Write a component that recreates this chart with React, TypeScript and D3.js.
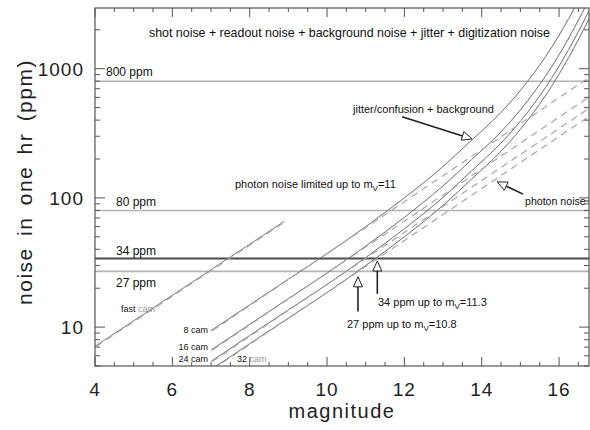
import { useEffect, useRef } from "react";
import * as d3 from "d3";

// magnitudes where the total-noise curves were read
const totalMags = [7, 9, 10, 11, 12, 13, 13.74, 14.5, 15.19, 15.8, 16.4, 16.8];
const cam8Total = [9.4, 23.5, 37, 60, 100, 175, 280, 460, 800, 1450, 2950, 5030];
const cam16Total = [6.65, 16.6, 26.2, 42.4, 70.7, 124, 198, 325, 566, 1025, 2086, 3557];
const cam24Total = [5.43, 13.6, 21.4, 34.6, 57.7, 101, 162, 266, 462, 837, 1703, 2904];
const cam32Total = [4.7, 11.75, 18.5, 30, 50, 87.5, 140, 230, 400, 725, 1475, 2515];

// photon noise (straight lines in log space)
const photonMags = [7, 16.8];
const cam8Photon = [9.4, 880];
const cam16Photon = [6.65, 622];
const cam24Photon = [5.43, 508];
const cam32Photon = [4.7, 440];

const fastMags = [4, 8.9];
const fastCam = [7.1, 66];

// requirement lines
const levels = [800, 80, 34, 27];
const levelLabels = ["800 ppm", "80 ppm", "34 ppm", "27 ppm"];

const xMajor = [4, 6, 8, 10, 12, 14, 16];
const yMajor = [10, 100, 1000];

const App = () => {
  const ref = useRef(null);

  useEffect(() => {
    const width = 590;
    const height = 430;
    const left = 95, right = 589, top = 8, bottom = 366;
    const font = "'Liberation Sans', Arial, sans-serif";

    const root = d3.select(ref.current);
    root.selectAll("*").remove();
    const svg = root
      .append("svg")
      .attr("width", width)
      .attr("height", height)
      .style("position", "absolute")
      .style("left", "0px")
      .style("top", "0px")
      .style("background", "#fff");

    const x = d3.scaleLinear().domain([4, 16.8]).range([left, right + 1]);
    const y = d3.scaleLog().domain([5, 2950]).range([bottom, top]);

    svg
      .append("clipPath")
      .attr("id", "plot")
      .append("rect")
      .attr("x", left)
      .attr("y", top)
      .attr("width", right - left)
      .attr("height", bottom - top);

    const g = svg.append("g").attr("clip-path", "url(#plot)");

    // horizontal requirement lines
    levels.forEach((v) => {
      g.append("line")
        .attr("x1", left)
        .attr("x2", right)
        .attr("y1", y(v))
        .attr("y2", y(v))
        .attr("stroke", v === 34 ? "#4a4a4a" : "#b4b4b4")
        .attr("stroke-width", v === 34 ? 2 : 1.6);
    });

    const line = d3
      .line<[number, number]>()
      .x((d) => x(d[0]))
      .y((d) => y(d[1]))
      .curve(d3.curveMonotoneX);

    const totals = [cam8Total, cam16Total, cam24Total, cam32Total];
    totals.forEach((vals) => {
      g.append("path")
        .attr("d", line(totalMags.map((m, i) => [m, vals[i]])))
        .attr("fill", "none")
        .attr("stroke", "#6e6e6e")
        .attr("stroke-width", 1);
    });

    // dashed photon lines drawn on top, a hair to the right
    const photons = [cam8Photon, cam16Photon, cam24Photon, cam32Photon];
    photons.forEach((vals) => {
      g.append("path")
        .attr("d", line(photonMags.map((m, i) => [m, vals[i]])))
        .attr("transform", "translate(1.5,0)")
        .attr("fill", "none")
        .attr("stroke", "#a8a8a8")
        .attr("stroke-width", 1.2)
        .attr("stroke-dasharray", "7,5");
    });

    // fast cameras
    g.append("path")
      .attr("d", line(fastMags.map((m, i) => [m, fastCam[i]])))
      .attr("fill", "none")
      .attr("stroke", "#777")
      .attr("stroke-width", 1);
    g.append("path")
      .attr("d", line(fastMags.map((m, i) => [m, fastCam[i]])))
      .attr("transform", "translate(1.5,0)")
      .attr("fill", "none")
      .attr("stroke", "#aaa")
      .attr("stroke-width", 1.2)
      .attr("stroke-dasharray", "7,5");

    // frame
    svg
      .append("rect")
      .attr("x", left)
      .attr("y", top)
      .attr("width", right - left)
      .attr("height", bottom - top)
      .attr("fill", "none")
      .attr("stroke", "#555")
      .attr("stroke-width", 1.2);

    // x ticks (inward, top and bottom)
    const xMinor = d3.range(4, 16.81, 0.5);
    xMinor.forEach((m) => {
      const major = xMajor.includes(m);
      const len = major ? 9 : 4;
      svg.append("line").attr("x1", x(m)).attr("x2", x(m)).attr("y1", bottom).attr("y2", bottom - len).attr("stroke", "#555");
      svg.append("line").attr("x1", x(m)).attr("x2", x(m)).attr("y1", top).attr("y2", top + len).attr("stroke", "#555");
    });
    xMajor.forEach((m) => {
      svg
        .append("text")
        .attr("x", x(m))
        .attr("y", 396)
        .attr("text-anchor", "middle")
        .attr("font-family", font)
        .attr("font-size", 19)
        .attr("letter-spacing", 1)
        .attr("fill", "#222")
        .text(m);
    });

    // y ticks (inward, left and right)
    const yTicks = y.ticks();
    yTicks.forEach((v) => {
      const major = yMajor.includes(v);
      const len = major ? 10 : 5;
      svg.append("line").attr("x1", left).attr("x2", left + len).attr("y1", y(v)).attr("y2", y(v)).attr("stroke", "#555");
      svg.append("line").attr("x1", right).attr("x2", right - len).attr("y1", y(v)).attr("y2", y(v)).attr("stroke", "#555");
    });
    yMajor.forEach((v) => {
      svg
        .append("text")
        .attr("x", 84)
        .attr("y", y(v) + 7)
        .attr("text-anchor", "end")
        .attr("font-family", font)
        .attr("font-size", 19)
        .attr("letter-spacing", 1)
        .attr("fill", "#222")
        .text(v);
    });

    // axis titles
    svg
      .append("text")
      .attr("x", (left + right) / 2)
      .attr("y", 418)
      .attr("text-anchor", "middle")
      .attr("font-family", font)
      .attr("font-size", 20)
      .attr("letter-spacing", 1.5)
      .attr("fill", "#222")
      .text("magnitude");
    svg
      .append("text")
      .attr("transform", "translate(32,182) rotate(-90)")
      .attr("text-anchor", "middle")
      .attr("font-family", font)
      .attr("font-size", 21)
      .attr("letter-spacing", 1.5)
      .attr("word-spacing", 4)
      .attr("fill", "#222")
      .text("noise in one hr (ppm)");

    // small annotation helper
    const note = (px: number, py: number, txt: string, size = 11, anchor = "start") =>
      svg
        .append("text")
        .attr("x", px)
        .attr("y", py)
        .attr("text-anchor", anchor)
        .attr("font-family", font)
        .attr("font-size", size)
        .attr("fill", "#111")
        .text(txt);

    note(149, 37, "shot noise + readout noise + background noise + jitter + digitization noise", 12.4);

    // level labels
    const labelX = [106, 116, 116, 116];
    const labelDy = [-5, -4, -3, 16];
    levels.forEach((v, i) => {
      note(labelX[i], y(v) + labelDy[i], levelLabels[i], 12);
    });

    note(353, 113, "jitter/confusion + background", 11);
    note(525, 205, "photon noise", 10.6);
    svg.append("line").attr("x1", 584).attr("x2", 589).attr("y1", 201).attr("y2", 201).attr("stroke", "#333");

    const subText = (px: number, py: number, pre: string, post: string) => {
      const t = svg
        .append("text")
        .attr("x", px)
        .attr("y", py)
        .attr("font-family", font)
        .attr("font-size", 11)
        .attr("fill", "#111");
      t.append("tspan").text(pre + "m");
      t.append("tspan").attr("dy", 3).attr("font-size", 8).text("V");
      t.append("tspan").attr("dy", -3).text(post);
    };
    subText(235, 188, "photon noise limited up to ", "=11");
    subText(378, 306, "34 ppm up to ", "=11.3");
    subText(347, 328, "27 ppm up to ", "=10.8");

    // arrows with open heads
    const arrow = (x1: number, y1: number, x2: number, y2: number) => {
      const ang = Math.atan2(y2 - y1, x2 - x1);
      const L = 10, W = 4.5;
      const bx = x2 - L * Math.cos(ang), by = y2 - L * Math.sin(ang);
      svg.append("line").attr("x1", x1).attr("y1", y1).attr("x2", bx).attr("y2", by).attr("stroke", "#222").attr("stroke-width", 1.6);
      const pts = [
        [x2, y2],
        [bx - W * Math.sin(ang), by + W * Math.cos(ang)],
        [bx + W * Math.sin(ang), by - W * Math.cos(ang)],
      ];
      svg.append("polygon").attr("points", pts.map((p) => p.join(",")).join(" ")).attr("fill", "#fff").attr("stroke", "#222").attr("stroke-width", 1);
    };
    arrow(x(11.94), y(424), x(13.75), y(286));
    arrow(x(15.07), y(107), x(14.4), y(133));
    arrow(x(10.8), y(13.2), x(10.8), y(24.5));
    arrow(x(11.3), y(18.1), x(11.3), y(32.5));

    // camera labels
    const cam = (px: number, py: number, a: string, b: string, grayB: boolean, anchor = "start") => {
      const t = svg
        .append("text")
        .attr("x", px)
        .attr("y", py)
        .attr("text-anchor", anchor)
        .attr("font-family", font)
        .attr("font-size", 9)
        .attr("fill", "#111");
      t.append("tspan").text(a);
      t.append("tspan").attr("fill", grayB ? "#999" : "#111").text(b);
    };
    cam(121, 312, "fast ", "cam", true);
    cam(208, 333, "8 cam", "", false, "end");
    cam(208, 350, "16 cam", "", false, "end");
    cam(208, 362, "24 cam", "", false, "end");
    cam(237, 362, "32 ", "cam", true);
  }, []);

  return <div ref={ref} />;
};

export default App;
